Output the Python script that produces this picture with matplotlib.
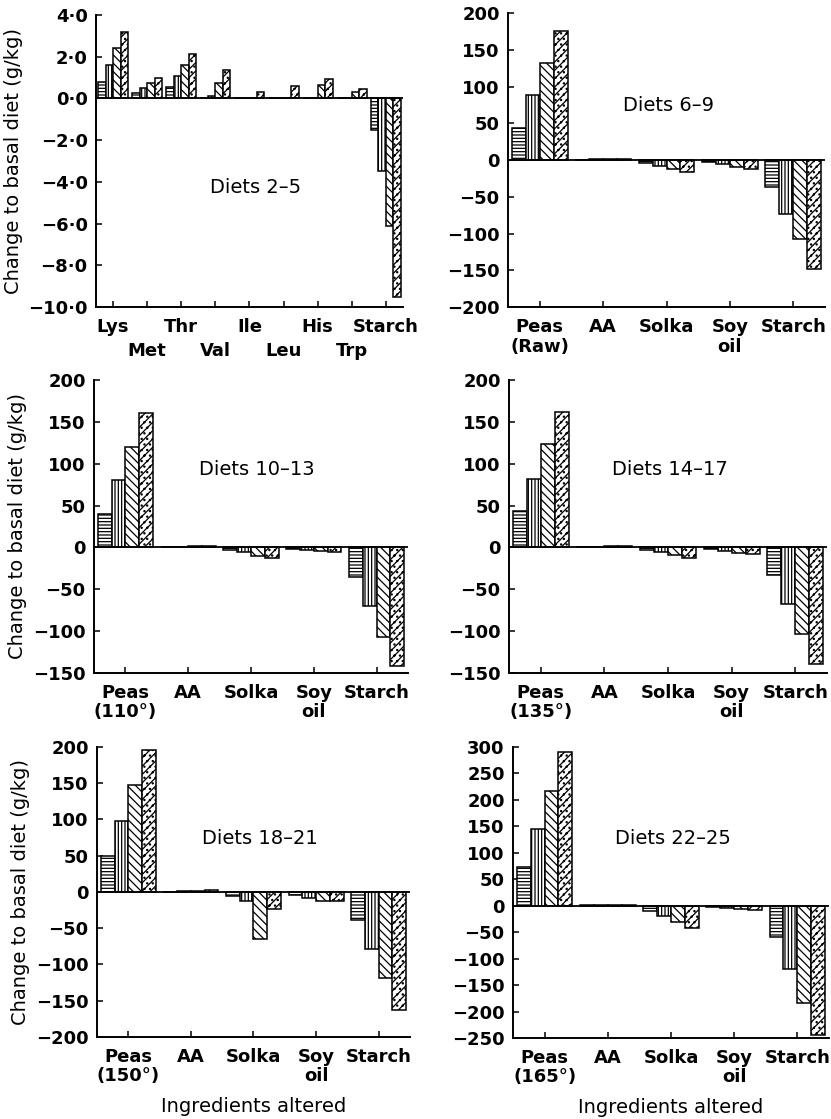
import matplotlib
matplotlib.use("Agg")
import matplotlib.pyplot as plt
import numpy as np

plt.rcParams['font.family'] = ['DejaVu Sans']
plt.rcParams['hatch.linewidth'] = 0.9

# ---------------- data ----------------
aa_cats = ["Lys", "Met", "Thr", "Val", "Ile", "Leu", "His", "Trp", "Starch"]
aa_s1 = [0.80, 0.24, 0.53, 0.00, 0.00, 0.00, 0.00, 0.00, -1.5]
aa_s2 = [1.60, 0.48, 1.06, 0.12, 0.00, 0.00, 0.00, 0.00, -3.5]
aa_s3 = [2.40, 0.72, 1.60, 0.75, 0.00, 0.00, 0.65, 0.30, -6.1]
aa_s4 = [3.20, 0.96, 2.13, 1.35, 0.32, 0.60, 0.95, 0.45, -9.5]

ing_base = ["AA", "Solka", "Soy\noil", "Starch"]

d6_9_s1 = [44, 0.5, -4, -3, -36]
d6_9_s2 = [88, 1.0, -8, -6, -73]
d6_9_s3 = [132, 1.5, -12, -10, -108]
d6_9_s4 = [175, 2.0, -16, -12, -148]

d10_13_s1 = [40, 0.5, -3, -1.5, -35]
d10_13_s2 = [80, 1.0, -6, -3, -70]
d10_13_s3 = [120, 1.5, -10, -4.5, -107]
d10_13_s4 = [160, 2.0, -13, -6, -142]

d14_17_s1 = [43, 0.5, -2.5, -2, -33]
d14_17_s2 = [82, 1.0, -5, -4, -68]
d14_17_s3 = [123, 1.5, -9, -6.5, -104]
d14_17_s4 = [162, 2.0, -13, -8, -139]

d18_21_s1 = [50, 0.5, -6, -4, -39]
d18_21_s2 = [98, 1.0, -13, -8, -79]
d18_21_s3 = [147, 1.5, -65, -13, -119]
d18_21_s4 = [196, 2.5, -24, -13, -163]

d22_25_s1 = [73, 0.5, -10, -3, -59]
d22_25_s2 = [146, 1.0, -20, -4.5, -120]
d22_25_s3 = [217, 1.5, -31, -6, -183]
d22_25_s4 = [290, 2.0, -42, -7.5, -245]

hatches = ['-----', '|||||', '\\\\\\\\', '////...']

panels = [
    dict(rect=[0.1155, 0.7256, 0.3694, 0.2610], cats=aa_cats,
         series=[aa_s1, aa_s2, aa_s3, aa_s4], ylim=(-10, 4), step=2,
         title="Diets 2\u20135", tpos=(0.52, 0.41), ylabel=True, xlabel=False, dec=True),
    dict(rect=[0.6113, 0.7256, 0.3815, 0.2627], cats=["Peas\n(Raw)"] + ing_base,
         series=[d6_9_s1, d6_9_s2, d6_9_s3, d6_9_s4], ylim=(-200, 200), step=50,
         title="Diets 6\u20139", tpos=(0.505, 0.687), ylabel=False, xlabel=False, dec=False),
    dict(rect=[0.1131, 0.3986, 0.3779, 0.2618], cats=["Peas\n(110\u00b0)"] + ing_base,
         series=[d10_13_s1, d10_13_s2, d10_13_s3, d10_13_s4], ylim=(-150, 200), step=50,
         title="Diets 10\u201313", tpos=(0.52, 0.693), ylabel=True, xlabel=False, dec=False),
    dict(rect=[0.6125, 0.3986, 0.3827, 0.2618], cats=["Peas\n(135\u00b0)"] + ing_base,
         series=[d14_17_s1, d14_17_s2, d14_17_s3, d14_17_s4], ylim=(-150, 200), step=50,
         title="Diets 14\u201317", tpos=(0.505, 0.693), ylabel=False, xlabel=False, dec=False),
    dict(rect=[0.1167, 0.0733, 0.3767, 0.2592], cats=["Peas\n(150\u00b0)"] + ing_base,
         series=[d18_21_s1, d18_21_s2, d18_21_s3, d18_21_s4], ylim=(-200, 200), step=50,
         title="Diets 18\u201321", tpos=(0.52, 0.686), ylabel=True, xlabel=True, dec=False),
    dict(rect=[0.6173, 0.0724, 0.3803, 0.2600], cats=["Peas\n(165\u00b0)"] + ing_base,
         series=[d22_25_s1, d22_25_s2, d22_25_s3, d22_25_s4], ylim=(-250, 300), step=50,
         title="Diets 22\u201325", tpos=(0.505, 0.686), ylabel=False, xlabel=True, dec=False),
]

fig = plt.figure(figsize=(8.31, 11.19), dpi=100)

bw = 0.22
TFS = 13
for p in panels:
    ax = fig.add_axes(p['rect'])
    n = len(p['cats'])
    x = np.arange(n)
    for i, (vals, h) in enumerate(zip(p['series'], hatches)):
        ax.bar(x + (i - 1.5) * bw, vals, width=bw, facecolor='white',
               edgecolor='black', linewidth=1.1, hatch=h, zorder=2)
    ax.axhline(0, color='black', linewidth=1.3, zorder=3)
    ax.set_xlim(-0.5, n - 0.5)
    ax.set_ylim(*p['ylim'])
    yt = np.arange(p['ylim'][0], p['ylim'][1] + p['step'] / 2, p['step'])
    ax.set_yticks(yt)
    if p['dec']:
        lbls = [("\u2212" if v < 0 else "") + ("%.1f" % abs(v)).replace(".", "\u00b7") for v in yt]
    else:
        lbls = [("\u2212" if v < 0 else "") + "%d" % abs(v) for v in yt]
    ax.set_yticklabels(lbls, fontsize=TFS, fontweight='bold')
    if p['dec']:
        ax.set_xticks(x[0::2])
        ax.set_xticklabels(p['cats'][0::2], fontsize=TFS, fontweight='bold')
        ax.set_xticks(x[1::2], minor=True)
        ax.set_xticklabels(p['cats'][1::2], minor=True, fontsize=TFS, fontweight='bold')
        ax.tick_params(axis='x', which='minor', direction='in', length=4, width=1.1, pad=25)
    else:
        ax.set_xticks(x)
        ax.set_xticklabels(p['cats'], fontsize=TFS, fontweight='bold', linespacing=1.1)
    ax.tick_params(axis='x', which='major', direction='in', length=4, width=1.1, pad=8)
    ax.tick_params(axis='y', direction='in', length=4, width=1.1, pad=6)
    for s in ['top', 'right']:
        ax.spines[s].set_visible(False)
    for s in ['left', 'bottom']:
        ax.spines[s].set_linewidth(1.4)
    ax.text(p['tpos'][0], p['tpos'][1], p['title'], transform=ax.transAxes,
            ha='center', va='center', fontsize=14)
    if p['ylabel']:
        ax.set_ylabel("Change to basal diet (g/kg)", fontsize=14, labelpad=4)
    if p['xlabel']:
        ax.set_xlabel("Ingredients altered", fontsize=14, labelpad=8)

fig.savefig("out.png", dpi=100)
